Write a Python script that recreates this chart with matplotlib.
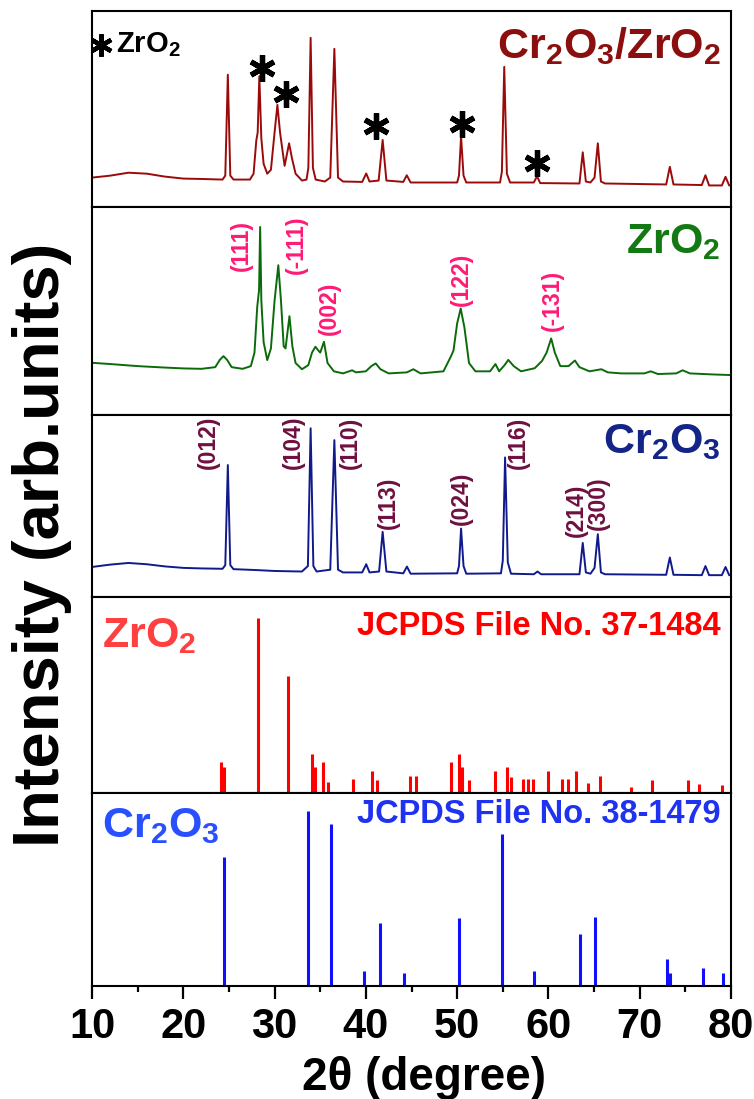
import matplotlib
matplotlib.use("Agg")
import matplotlib.pyplot as plt
import matplotlib.font_manager as fm

_names = {f.name for f in fm.fontManager.ttflist}
NARROW = 'Liberation Sans Narrow' in _names
HFAM = ['Liberation Sans Narrow', 'Liberation Sans', 'DejaVu Sans'] if NARROW else ['Liberation Sans', 'DejaVu Sans']
HS = 1 / 0.82 if NARROW else 1.0   # size factor for horizontal (tall) text

plt.rcParams['font.family'] = ['Liberation Sans', 'DejaVu Sans']
plt.rcParams['font.weight'] = 'bold'
plt.rcParams['mathtext.fontset'] = 'custom'
_mf = 'Liberation Sans Narrow:bold' if NARROW else 'Liberation Sans:bold'
plt.rcParams['mathtext.rm'] = _mf
plt.rcParams['mathtext.bf'] = _mf
plt.rcParams['mathtext.it'] = _mf

# ---------------- data ----------------
# Cr2O3/ZrO2 composite pattern (2theta, intensity a.u.)
comp_x = [10, 12, 14, 16, 18, 20, 22, 24.3, 24.6, 24.88, 25.15, 25.5, 27.3, 27.7, 28.0, 28.15,
          28.33, 28.55, 28.8, 29.2, 29.6, 30.0, 30.31, 30.6, 31.1, 31.59, 31.9, 32.3, 33.0,
          33.5, 33.7, 33.95, 34.2, 34.5, 35.5, 36.1, 36.55, 36.95, 37.5, 39.6, 40.04, 40.4,
          41.4, 41.84, 42.25, 44.1, 44.48, 44.9, 50.0, 50.2, 50.43, 50.7, 51.0, 54.7, 54.9,
          55.16, 55.45, 55.8, 58.4, 58.75, 59.1, 63.4, 63.76, 64.1, 64.6, 65.05, 65.41, 65.75,
          66.2, 72.9, 73.3, 73.7, 76.8, 77.2, 77.6, 79.0, 79.4, 79.8, 80]
comp_y = [0.15, 0.16, 0.175, 0.17, 0.155, 0.145, 0.143, 0.14, 0.16, 0.675, 0.16, 0.14, 0.14, 0.17,
          0.34, 0.38, 0.667, 0.35, 0.22, 0.17, 0.19, 0.38, 0.521, 0.38, 0.21, 0.325, 0.25, 0.17,
          0.135, 0.14, 0.2, 0.863, 0.2, 0.14, 0.13, 0.15, 0.807, 0.15, 0.13, 0.128, 0.171, 0.13,
          0.135, 0.342, 0.135, 0.128, 0.162, 0.125, 0.125, 0.16, 0.359, 0.16, 0.125, 0.125, 0.18,
          0.715, 0.17, 0.125, 0.125, 0.157, 0.122, 0.12, 0.279, 0.13, 0.125, 0.15, 0.325, 0.13,
          0.12, 0.115, 0.205, 0.115, 0.112, 0.162, 0.11, 0.11, 0.154, 0.11, 0.11]
star_x = [28.66, 31.26, 41.1, 50.5, 58.8]
star_y = [0.71, 0.577, 0.413, 0.423, 0.226]

# ZrO2 pattern
zr_x = [10, 12, 15, 18, 20, 22, 23.5, 24.0, 24.4, 24.8, 25.3, 26.5, 27.4, 27.8, 28.1, 28.3, 28.42,
        28.55, 28.8, 29.2, 29.6, 30.0, 30.41, 30.7, 31.0, 31.2, 31.63, 31.95, 32.3, 33.0, 33.7,
        34.1, 34.47, 34.8, 35.0, 35.41, 35.8, 36.5, 37.5, 38.5, 38.9, 40.0, 40.6, 41.08, 41.6,
        42.5, 44.5, 45.2, 46.0, 48.5, 49.3, 49.6, 50.0, 50.39, 50.8, 51.3, 52.0, 53.6, 54.2, 54.6,
        55.2, 55.6, 56.2, 57.0, 58.5, 59.3, 59.8, 60.3, 60.7, 61.3, 62.2, 62.9, 63.4, 64.5, 65.8,
        66.5, 68.0, 70.5, 71.2, 72.0, 74.0, 74.7, 75.5, 78.0, 80.0]
zr_y = [0.251, 0.245, 0.235, 0.228, 0.224, 0.222, 0.23, 0.265, 0.283, 0.265, 0.23, 0.222, 0.235,
        0.3, 0.52, 0.6, 0.904, 0.55, 0.35, 0.264, 0.32, 0.55, 0.72, 0.55, 0.33, 0.32, 0.475, 0.33,
        0.25, 0.22, 0.24, 0.3, 0.328, 0.31, 0.3, 0.352, 0.25, 0.21, 0.2, 0.215, 0.205, 0.21, 0.235,
        0.248, 0.22, 0.2, 0.205, 0.22, 0.2, 0.21, 0.28, 0.31, 0.44, 0.512, 0.42, 0.25, 0.21, 0.21,
        0.245, 0.21, 0.24, 0.265, 0.235, 0.21, 0.225, 0.26, 0.3, 0.368, 0.3, 0.235, 0.235, 0.262,
        0.23, 0.21, 0.22, 0.205, 0.2, 0.2, 0.21, 0.197, 0.2, 0.215, 0.2, 0.195, 0.192]
zr_hkl = ['(111)', '(-111)', '(002)', '(122)', '(-131)']
zr_hkl_x = [26.4, 32.4, 36.0, 50.5, 60.4]
zr_hkl_y = [0.69, 0.68, 0.385, 0.523, 0.403]

# Cr2O3 pattern
cr_x = [10, 12, 14, 16, 18, 20, 22, 24.3, 24.6, 24.88, 25.15, 25.5, 28, 30, 33.0, 33.65, 33.95,
        34.25, 34.6, 36.1, 36.55, 36.95, 37.5, 39.6, 40.04, 40.4, 41.45, 41.84, 42.25, 44.1, 44.5,
        44.9, 50.0, 50.2, 50.43, 50.7, 51.0, 54.8, 55.0, 55.25, 55.55, 55.9, 58.4, 58.8, 59.2,
        63.4, 63.76, 64.1, 64.6, 65.05, 65.41, 65.75, 66.2, 72.9, 73.3, 73.7, 76.8, 77.2, 77.6,
        79.0, 79.4, 79.8, 80]
cr_y = [0.165, 0.178, 0.187, 0.18, 0.168, 0.16, 0.157, 0.155, 0.175, 0.725, 0.175, 0.153, 0.148,
        0.143, 0.14, 0.17, 0.927, 0.17, 0.14, 0.15, 0.862, 0.15, 0.135, 0.135, 0.18, 0.135, 0.14,
        0.358, 0.14, 0.13, 0.167, 0.128, 0.13, 0.17, 0.376, 0.17, 0.128, 0.13, 0.2, 0.767, 0.19,
        0.128, 0.125, 0.14, 0.125, 0.125, 0.297, 0.135, 0.128, 0.16, 0.345, 0.135, 0.125, 0.122,
        0.217, 0.122, 0.12, 0.17, 0.12, 0.12, 0.165, 0.12, 0.119]
cr_hkl = ['(012)', '(104)', '(110)', '(113)', '(024)', '(116)', '(214)', '(300)']
cr_hkl_x = [22.75, 32.1, 38.3, 42.5, 50.5, 56.7, 63.1, 65.5]
cr_hkl_y = [0.706, 0.706, 0.706, 0.376, 0.394, 0.706, 0.33, 0.367]

# JCPDS 37-1484 (ZrO2)
ref_zr_pos = [24.08, 24.45, 28.23, 31.49, 34.13, 34.45, 35.3, 35.8, 38.6, 40.7, 41.2, 44.8, 45.5,
              49.3, 50.15, 50.5, 51.3, 54.15, 55.5, 55.95, 57.2, 57.8, 58.3, 60.0, 61.5, 62.1,
              63.0, 64.3, 65.7, 69.05, 71.3, 75.3, 76.5, 79.0]
ref_zr_int = [0.16, 0.134, 0.895, 0.598, 0.199, 0.134, 0.16, 0.058, 0.069, 0.114, 0.066, 0.087,
              0.087, 0.158, 0.199, 0.134, 0.066, 0.114, 0.131, 0.083, 0.069, 0.069, 0.069, 0.114,
              0.069, 0.069, 0.114, 0.05, 0.088, 0.032, 0.068, 0.066, 0.044, 0.04]

# JCPDS 38-1479 (Cr2O3)
ref_cr_pos = [24.5, 33.62, 36.22, 39.76, 41.51, 44.2, 50.2, 54.87, 58.42, 63.47, 65.12, 73.0,
              73.3, 76.9, 79.1]
ref_cr_int = [0.666, 0.905, 0.841, 0.078, 0.324, 0.068, 0.35, 0.787, 0.078, 0.267, 0.359, 0.142,
              0.069, 0.095, 0.069]

xticks = [10, 20, 30, 40, 50, 60, 70, 80]
xminor = [15, 25, 35, 45, 55, 65, 75]

# ---------------- figure ----------------
W, H = 754, 1099
fig = plt.figure(figsize=(W / 100, H / 100), dpi=100)

left = 92 / W
width = (731 - 92) / W
bounds_px = [(11, 207), (207, 415), (415, 597), (597, 793), (793, 986)]
axes = []
for top, bot in bounds_px:
    ax = fig.add_axes([left, 1 - bot / H, width, (bot - top) / H])
    ax.set_xlim(10, 80)
    ax.set_ylim(0, 1)
    ax.set_yticks([])
    ax.tick_params(axis='x', which='both', bottom=False, labelbottom=False)
    for s in ax.spines.values():
        s.set_linewidth(1.5)
    axes.append(ax)

ax1, ax2, ax3, ax4, ax5 = axes

def htext(ax, x, y, s, size, color, ha, transform=None, va='center'):
    ax.text(x, y, s, transform=transform if transform is not None else ax.transAxes,
            fontsize=size * HS, family=HFAM, color=color, ha=ha, va=va)

# panel 1
ax1.plot(comp_x, comp_y, color='#9B0A0A', lw=1.4)
ax1.plot(star_x, star_y, linestyle='none', marker=(6, 2, 0), markersize=19,
         markeredgewidth=3.8, color='black')
ax1.plot([11.0], [0.827], linestyle='none', marker=(6, 2, 0), markersize=16,
         markeredgewidth=3.2, color='black')
htext(ax1, 12.6, 0.827, r'ZrO$_2$', 21, 'black', 'left', transform=ax1.transData)
htext(ax1, 0.984, 0.82, r'Cr$_2$O$_3$/ZrO$_2$', 31, '#8B0F0F', 'right')

# panel 2
ax2.plot(zr_x, zr_y, color='#0B6B0B', lw=1.4)
for lab, x, y in zip(zr_hkl, zr_hkl_x, zr_hkl_y):
    ax2.text(x, y, lab, rotation=90, ha='center', va='bottom', fontsize=16.5, color='#FF1A75')
htext(ax2, 0.984, 0.83, r'ZrO$_2$', 31, '#137A13', 'right')

# panel 3
ax3.plot(cr_x, cr_y, color='#101A8A', lw=1.4)
for lab, x, y in zip(cr_hkl, cr_hkl_x, cr_hkl_y):
    ax3.text(x, y, lab, rotation=90, ha='center', va='bottom', fontsize=16.5, color='#6E1040')
htext(ax3, 0.984, 0.85, r'Cr$_2$O$_3$', 31, '#142487', 'right')

# panel 4
ax4.vlines(ref_zr_pos, 0, ref_zr_int, color='#FF0000', lw=2.2)
htext(ax4, 0.016, 0.80, r'ZrO$_2$', 31, '#FF4040', 'left')
htext(ax4, 0.984, 0.85, 'JCPDS File No. 37-1484', 23.5, '#FF0000', 'right')

# panel 5
ax5.vlines(ref_cr_pos, 0, ref_cr_int, color='#1010FF', lw=2.2)
htext(ax5, 0.016, 0.83, r'Cr$_2$O$_3$', 31, '#2850FF', 'left')
htext(ax5, 0.984, 0.89, 'JCPDS File No. 38-1479', 23.5, '#1E32F0', 'right')

ax5.set_xticks(xticks)
ax5.set_xticks(xminor, minor=True)
ax5.tick_params(axis='x', which='major', bottom=True, labelbottom=True, direction='out',
                length=9, width=1.6, pad=6)
ax5.tick_params(axis='x', which='minor', bottom=True, direction='out', length=4.5, width=1.6)
for t in ax5.get_xticklabels():
    t.set_fontweight('bold')
    t.set_family(HFAM)
    t.set_fontsize(30 * HS)

fig.text(424 / W, 1 - 1078 / H, '2θ (degree)', fontsize=33 * HS, family=HFAM,
         ha='center', va='center')
fig.text(42 / W, 1 - 545 / H, 'Intensity (arb.units)', fontsize=47, rotation=90,
         ha='center', va='center')

fig.savefig('out.png', dpi=100)
